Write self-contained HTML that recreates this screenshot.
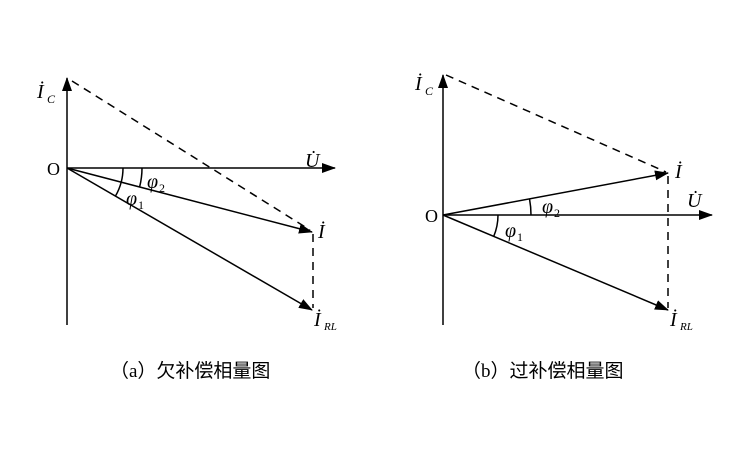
<!DOCTYPE html>
<html><head><meta charset="utf-8"><style>
html,body{margin:0;padding:0;background:#fff;width:750px;height:450px;overflow:hidden}
svg{display:block}
.t{font-family:"Liberation Serif",serif;font-style:italic;fill:#000}
.c{font-family:"Liberation Serif","Noto Sans CJK SC",sans-serif;font-size:19px;fill:#000}
</style></head><body>
<svg width="750" height="450" viewBox="0 0 750 450" xmlns="http://www.w3.org/2000/svg">
<defs>
<marker id="a" markerWidth="14" markerHeight="10" refX="13" refY="5" orient="auto" markerUnits="userSpaceOnUse">
<path d="M0,0 L14,5 L0,10 Z" fill="#000"/></marker>
</defs>
<g stroke="#000" stroke-width="1.5" fill="none">
<!-- (a) -->
<line x1="67" y1="325" x2="67" y2="78" marker-end="url(#a)"/>
<line x1="67" y1="168" x2="335" y2="168" marker-end="url(#a)"/>
<line x1="67" y1="168" x2="312" y2="232" marker-end="url(#a)"/>
<line x1="67" y1="168" x2="312" y2="310" marker-end="url(#a)"/>
<line x1="72" y1="81" x2="310" y2="230" stroke-dasharray="8,6"/>
<line x1="313" y1="234" x2="313" y2="308" stroke-dasharray="8,6"/>
<path d="M142,168 A75,75 0 0 1 139.6,186.9"/>
<path d="M123,168 A56,56 0 0 1 115.5,196"/>
<!-- (b) -->
<line x1="443" y1="325" x2="443" y2="75" marker-end="url(#a)"/>
<line x1="443" y1="215" x2="712" y2="215" marker-end="url(#a)"/>
<line x1="443" y1="215" x2="668" y2="173" marker-end="url(#a)"/>
<line x1="443" y1="215" x2="668" y2="310" marker-end="url(#a)"/>
<line x1="446" y1="75" x2="666" y2="172" stroke-dasharray="8,6"/>
<line x1="668" y1="176" x2="668" y2="308" stroke-dasharray="8,6"/>
<path d="M529.5,198.8 A88,88 0 0 1 531,215"/>
<path d="M498,215 A55,55 0 0 1 493.7,236.4"/>
</g>
<!-- labels (a) -->
<text x="47" y="175" font-family="Liberation Serif" font-size="18">O</text>
<text class="t" x="37" y="98" font-size="20">İ</text><text class="t" x="47" y="103" font-size="12">C</text>
<text class="t" x="305" y="167" font-size="20">U̇</text>
<text class="t" x="147" y="188" font-size="20">φ</text><text x="159" y="192" font-family="Liberation Serif" font-size="12">2</text>
<text class="t" x="126" y="205" font-size="20">φ</text><text x="138" y="209" font-family="Liberation Serif" font-size="12">1</text>
<text class="t" x="318" y="238" font-size="20">İ</text>
<text class="t" x="314" y="326" font-size="20">İ</text><text class="t" x="324" y="330" font-size="11">RL</text>
<!-- labels (b) -->
<text x="425" y="222" font-family="Liberation Serif" font-size="18">O</text>
<text class="t" x="415" y="90" font-size="20">İ</text><text class="t" x="425" y="95" font-size="12">C</text>
<text class="t" x="687" y="207" font-size="20">U̇</text>
<text class="t" x="542" y="213" font-size="20">φ</text><text x="554" y="217" font-family="Liberation Serif" font-size="12">2</text>
<text class="t" x="505" y="237" font-size="20">φ</text><text x="517" y="241" font-family="Liberation Serif" font-size="12">1</text>
<text class="t" x="675" y="178" font-size="20">İ</text>
<text class="t" x="670" y="326" font-size="20">İ</text><text class="t" x="680" y="330" font-size="11">RL</text>
<!-- captions -->
<text class="c" x="110" y="377">（a）欠补偿相量图</text>
<text class="c" x="462" y="377">（b）过补偿相量图</text>
</svg>
</body></html>
